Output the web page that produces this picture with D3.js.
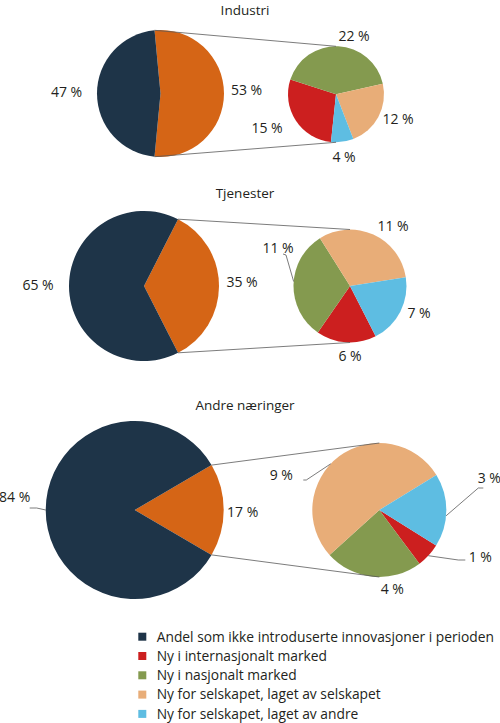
<!DOCTYPE html>
<html>
<head>
<meta charset="utf-8">
<script src="https://cdn.jsdelivr.net/npm/d3@7"></script>
<style>
  body { margin: 0; background: #fff; }
  text { font-family: "Open Sans", sans-serif; fill: #231f20; }
</style>
</head>
<body>
<div id="chart"></div>
<script>
// Data
const panels = ["Industri", "Tjenester", "Andre næringer"]
const categories = [
  "Andel som ikke introduserte innovasjoner i perioden",
  "Ny i internasjonalt marked",
  "Ny i nasjonalt marked",
  "Ny for selskapet, laget av selskapet",
  "Ny for selskapet, laget av andre",
]
const notInnovating = [47, 65, 84]
const innovating = [53, 35, 17]
const newInternational = [15, 6, 1]
const newNational = [22, 11, 4]
const newOwn = [12, 11, 9]
const newOthers = [4, 7, 3]

const colors = ["#1e3448", "#cc1f1f", "#849a4f", "#e8ad78", "#5ebde2"]
const otherColor = "#d56516"

// Layout for each panel (pie centres, radii, label offsets from the centre)
const layout = [
  {
    titleY: 14.6,
    big: { cx: 160.5, cy: 93.5, r: 63.5 },
    small: { cx: 336, cy: 94.3, r: 48, start: 186 },
    bigLabels: [[-94, -1], [86, -3]],           // not innovating, innovating
    smallLabels: [[-69, 34], [18, -58], [62, 25], [8, 63]], // red, green, tan, blue
    leaders: [],
  },
  {
    titleY: 198,
    big: { cx: 144, cy: 286, r: 75 },
    small: { cx: 350, cy: 286, r: 56.5, start: 153 },
    bigLabels: [[-106, -1], [98, -4]],
    smallLabels: [[0, 70], [-72, -38], [43, -60], [69, 27]],
    leaders: [
      { pie: "small", idx: 1, angle: 274.5, pts: [[8, 7], [5, 6]] },
    ],
  },
  {
    titleY: 410,
    big: { cx: 134.7, cy: 510, r: 89 },
    small: { cx: 379.3, cy: 510, r: 67, start: 122 },
    bigLabels: [[-120, -13], [108, 2]],
    smallLabels: [[101, 47], [13, 79], [-98, -35], [110, -32]],
    leaders: [
      { pie: "big", idx: 0, angle: 270, pts: [[22, 11], [15, 11]] },
      { pie: "small", idx: 2, angle: 313.6, pts: [[25, 5], [22, 5]] },
      { pie: "small", idx: 3, angle: 95, pts: [[-11, 10], [-6, 10]] },
      { pie: "small", idx: 0, angle: 133, pts: [[-22, 3], [-15, 3]] },
    ],
  },
]

const width = 500
const height = 723
const rad = deg => deg * Math.PI / 180
const polar = (r, a) => [r * Math.sin(a), -r * Math.cos(a)]

const svg = d3.select("#chart")
  .append("svg")
    .attr("width", width)
    .attr("height", height)

panels.forEach((name, i) => {
  const L = layout[i]
  const g = svg.append("g")

  g.append("text")
      .attr("x", 245)
      .attr("y", L.titleY)
      .attr("text-anchor", "middle")
      .style("font-size", "13.5px")
      .text(name)

  // big pie: the innovating slice is centred on the right side
  const bigData = [
    { v: innovating[i], c: otherColor },
    { v: notInnovating[i], c: colors[0] },
  ]
  const innoAngle = 2 * Math.PI * innovating[i] / (innovating[i] + notInnovating[i])
  const bigStart = Math.PI / 2 - innoAngle / 2
  const bigArcs = d3.pie()
    .sort(null)
    .value(d => d.v)
    .startAngle(bigStart)
    .endAngle(bigStart + 2 * Math.PI)(bigData)

  const bigArc = d3.arc().innerRadius(0).outerRadius(L.big.r)
  const bigG = g.append("g").attr("transform", `translate(${L.big.cx},${L.big.cy})`)
  bigG.selectAll("path")
    .data(bigArcs)
    .enter().append("path")
      .attr("d", bigArc)
      .attr("fill", d => d.data.c)

  // small pie: breakdown of the innovating share
  const smallData = [
    { v: newInternational[i], c: colors[1] },
    { v: newNational[i], c: colors[2] },
    { v: newOwn[i], c: colors[3] },
    { v: newOthers[i], c: colors[4] },
  ]
  const smallStart = rad(L.small.start)
  const smallArcs = d3.pie()
    .sort(null)
    .value(d => d.v)
    .startAngle(smallStart)
    .endAngle(smallStart + 2 * Math.PI)(smallData)
  const smallArc = d3.arc().innerRadius(0).outerRadius(L.small.r)
  const smallG = g.append("g").attr("transform", `translate(${L.small.cx},${L.small.cy})`)
  smallG.selectAll("path")
    .data(smallArcs)
    .enter().append("path")
      .attr("d", smallArc)
      .attr("fill", d => d.data.c)

  // connector lines from the innovating slice to the small pie
  const a0 = polar(L.big.r, bigArcs[0].startAngle)
  const a1 = polar(L.big.r, bigArcs[0].endAngle)
  const connectors = [
    [[L.big.cx + a0[0], L.big.cy + a0[1]], [L.small.cx, L.small.cy - L.small.r]],
    [[L.big.cx + a1[0], L.big.cy + a1[1]], [L.small.cx, L.small.cy + L.small.r]],
  ]
  g.selectAll("line.conn")
    .data(connectors)
    .enter().append("line")
      .attr("class", "conn")
      .attr("x1", d => d[0][0])
      .attr("y1", d => d[0][1])
      .attr("x2", d => d[1][0])
      .attr("y2", d => d[1][1])
      .attr("stroke", "#5a5a5a")
      .attr("stroke-width", 0.8)

  // labels
  const bigValues = [notInnovating[i], innovating[i]]
  bigValues.forEach((v, j) => {
    g.append("text")
        .attr("x", L.big.cx + L.bigLabels[j][0])
        .attr("y", L.big.cy + L.bigLabels[j][1])
        .attr("text-anchor", "middle")
        .attr("dy", "0.35em")
        .style("font-size", "14px")
        .text(`${v} %`)
  })
  smallData.forEach((d, j) => {
    g.append("text")
        .attr("x", L.small.cx + L.smallLabels[j][0])
        .attr("y", L.small.cy + L.smallLabels[j][1])
        .attr("text-anchor", "middle")
        .attr("dy", "0.35em")
        .style("font-size", "14px")
        .text(`${d.v} %`)
  })

  // leader lines for labels sitting away from their slice
  L.leaders.forEach(ld => {
    const P = ld.pie === "big" ? L.big : L.small
    const lab = ld.pie === "big" ? L.bigLabels[ld.idx] : L.smallLabels[ld.idx]
    const e = polar(P.r, rad(ld.angle))
    const pts = [[P.cx + e[0], P.cy + e[1]]]
      .concat(ld.pts.map(p => [P.cx + lab[0] + p[0], P.cy + lab[1] + p[1]]))
    g.append("path")
        .attr("d", d3.line()(pts))
        .attr("fill", "none")
        .attr("stroke", "#5a5a5a")
        .attr("stroke-width", 0.8)
  })
})

// legend
const legend = svg.append("g")
    .attr("transform", "translate(138.3, 636.7)")
const rows = legend.selectAll("g")
  .data(categories)
  .enter().append("g")
    .attr("transform", (d, i) => `translate(0, ${i * 19.3})`)
rows.append("rect")
    .attr("x", 0)
    .attr("y", -4)
    .attr("width", 8)
    .attr("height", 8)
    .attr("fill", (d, i) => colors[i])
rows.append("text")
    .attr("x", 18.4)
    .attr("dy", "0.35em")
    .style("font-size", "13.8px")
    .text(d => d)
</script>
</body>
</html>
